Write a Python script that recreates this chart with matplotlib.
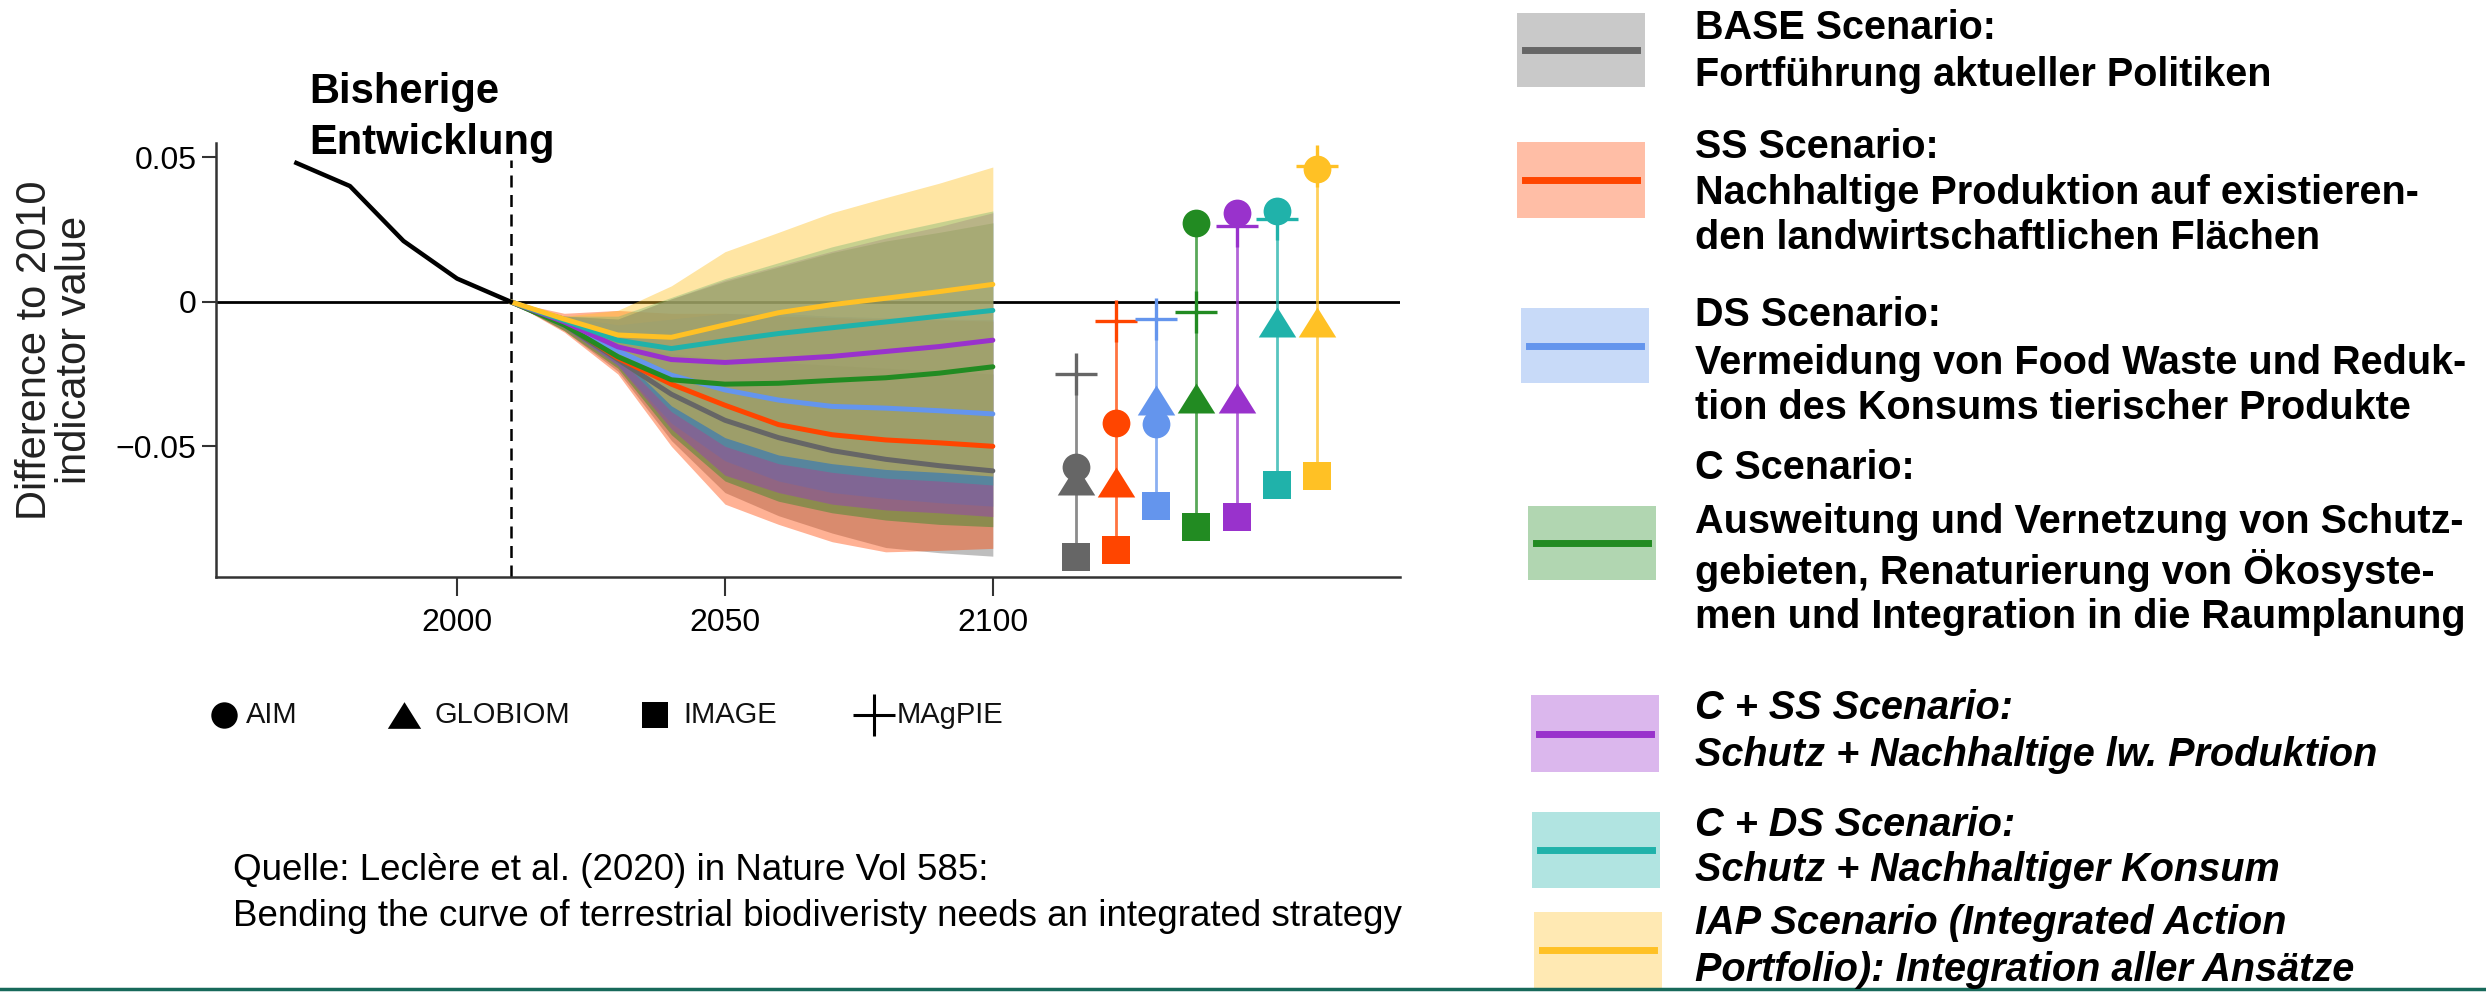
import numpy as np
import matplotlib.pyplot as plt
from matplotlib.patches import Rectangle
from matplotlib.path import Path
from matplotlib.lines import Line2D

plt.rcParams['font.family'] = ['Liberation Sans', 'DejaVu Sans']

W, H = 2486, 993

# bisherige Entwicklung (Biodiversitätsindikator relativ zu 2010)
hist_years = [1970, 1980, 1990, 2000, 2010]
hist_values = [0.048, 0.040, 0.021, 0.008, 0.0]

# Szenarien 2010-2100
years = [2010, 2020, 2030, 2040, 2050, 2060, 2070, 2080, 2090, 2100]
scen_names = ["BASE", "SS", "DS", "C", "C+SS", "C+DS", "IAP"]
scen_colors = ["#666666", "#ff4500", "#6495ed", "#228b22", "#9932cc", "#20b2aa", "#ffc125"]

mean_base = [0, -0.008, -0.020, -0.032, -0.041, -0.047, -0.0515, -0.0545, -0.0567, -0.0585]
mean_ss = [0, -0.0075, -0.0195, -0.0285, -0.0358, -0.0425, -0.046, -0.0478, -0.0488, -0.050]
mean_ds = [0, -0.007, -0.017, -0.0254, -0.0305, -0.034, -0.0362, -0.0368, -0.0377, -0.0388]
mean_c = [0, -0.008, -0.019, -0.027, -0.0285, -0.0282, -0.0272, -0.0263, -0.0247, -0.0225]
mean_css = [0, -0.007, -0.0156, -0.020, -0.021, -0.020, -0.0189, -0.0172, -0.0155, -0.0133]
mean_cds = [0, -0.0065, -0.0133, -0.0162, -0.0135, -0.011, -0.009, -0.007, -0.005, -0.003]
mean_iap = [0, -0.006, -0.0115, -0.0123, -0.008, -0.0038, -0.001, 0.0012, 0.0035, 0.006]

low_base = [0, -0.010, -0.024, -0.048, -0.066, -0.074, -0.080, -0.085, -0.0868, -0.088]
low_ss = [0, -0.0105, -0.025, -0.050, -0.070, -0.077, -0.083, -0.0865, -0.086, -0.0853]
low_ds = [0, -0.009, -0.022, -0.042, -0.055, -0.062, -0.066, -0.068, -0.0695, -0.0707]
low_c = [0, -0.010, -0.023, -0.046, -0.062, -0.069, -0.073, -0.0755, -0.077, -0.0778]
low_css = [0, -0.009, -0.022, -0.044, -0.060, -0.066, -0.070, -0.072, -0.073, -0.0743]
low_cds = [0, -0.008, -0.019, -0.038, -0.050, -0.056, -0.059, -0.061, -0.062, -0.0634]
low_iap = [0, -0.008, -0.018, -0.036, -0.047, -0.053, -0.056, -0.058, -0.059, -0.0603]

high_base = [0, -0.006, -0.013, -0.018, -0.020, -0.021, -0.022, -0.023, -0.024, -0.025]
high_ss = [0, -0.004, -0.003, -0.004, -0.004, -0.005, -0.0055, -0.006, -0.0063, -0.0067]
high_ds = [0, -0.005, -0.008, -0.006, -0.004, -0.004, -0.005, -0.0055, -0.006, -0.0061]
high_c = [0, -0.005, -0.006, 0.001, 0.007, 0.012, 0.017, 0.021, 0.024, 0.0273]
high_css = [0, -0.005, -0.006, 0.001, 0.0075, 0.0125, 0.0175, 0.022, 0.026, 0.0308]
high_cds = [0, -0.005, -0.005, 0.0015, 0.008, 0.0135, 0.019, 0.0235, 0.0275, 0.0314]
high_iap = [0, -0.005, -0.003, 0.0055, 0.0173, 0.024, 0.0308, 0.036, 0.041, 0.0466]

# Modellergebnisse 2100 je Szenario
aim = [-0.0571, -0.0419, -0.0424, 0.0273, 0.0308, 0.0314, 0.0458]
globiom = [-0.0617, -0.0623, -0.0340, -0.0334, -0.0334, -0.0069, -0.0069]
image = [-0.0882, -0.0859, -0.0707, -0.0778, -0.0743, -0.0634, -0.0603]
magpie = [-0.0250, -0.0067, -0.0061, -0.0037, 0.0262, 0.0285, 0.0469]

means = [mean_base, mean_ss, mean_ds, mean_c, mean_css, mean_cds, mean_iap]
lows = [low_base, low_ss, low_ds, low_c, low_css, low_cds, low_iap]
highs = [high_base, high_ss, high_ds, high_c, high_css, high_cds, high_iap]

fig = plt.figure(figsize=(W / 100, H / 100), dpi=100, facecolor="white")

def fx(x):
    return x / W

def fy(y):
    return 1 - y / H

ax = fig.add_axes([fx(216), fy(577), (1400 - 216) / W, (577 - 142.7) / H])
ax.set_xlim(1955, 2176)
ax.set_ylim(-0.0952, 0.055)
for s in ["top", "right"]:
    ax.spines[s].set_visible(False)
for s in ["left", "bottom"]:
    ax.spines[s].set_linewidth(1.8)
    ax.spines[s].set_color("#333333")

ax.set_yticks([-0.05, 0, 0.05])
ax.set_yticklabels(["\u22120.05", "0", "0.05"])
ax.set_xticks([2000, 2050, 2100])
ax.tick_params(axis="y", length=10, width=1.5, labelsize=23, pad=4, color="#333333")
ax.tick_params(axis="x", length=14, width=1.5, labelsize=23, pad=8, color="#333333")

ax.axhline(0, color="black", lw=2, zorder=1)
ax.plot([2010, 2010], [-0.0952, 0.049], color="black", lw=1.8,
        ls=(0, (4.8, 3.0)), zorder=1)

# Bänder und Mittelwerte
for lo, hi, c in zip(lows, highs, scen_colors):
    ax.fill_between(years, lo, hi, color=c, alpha=0.42, lw=0, zorder=2)
for m, c in zip(means, scen_colors):
    ax.plot(years, m, color=c, lw=3.6, zorder=4, solid_capstyle="round")

ax.plot(hist_years, hist_values, color="black", lw=3.2, zorder=4)

# Modellergebnisse rechts
tri = Path([(-1, -0.8), (1, -0.8), (0, 0.8), (-1, -0.8)],
           [Path.MOVETO, Path.LINETO, Path.LINETO, Path.CLOSEPOLY])
for i, c in enumerate(scen_colors):
    xpos = 2115.5 + 7.5 * i
    vals = [aim[i], globiom[i], image[i], magpie[i]]
    ax.plot([xpos, xpos], [min(vals), max(vals)], color=c, lw=2.0, alpha=0.75,
            zorder=5, clip_on=False)
    ax.plot([xpos], [image[i]], marker="s", ms=20, color=c, mew=0, zorder=6, clip_on=False)
    ax.plot([xpos], [globiom[i]], marker=tri, ms=27, color=c, mew=0, zorder=6, clip_on=False)
    ax.plot([xpos], [aim[i]], marker="o", ms=20, color=c, mew=0, zorder=7, clip_on=False)
    ax.plot([xpos], [magpie[i]], marker="+", ms=30, color=c, mew=2.4, zorder=7, clip_on=False)

fig.text(fx(55), fy(350), "Difference to 2010\nindicator value", rotation=90,
         ha="center", va="center", fontsize=30, linespacing=1.0, color="#222222")
fig.text(fx(309), fy(92), "Bisherige", fontsize=30, fontweight="bold", va="center")
fig.text(fx(309), fy(143), "Entwicklung", fontsize=30, fontweight="bold", va="center")

# Modell-Legende unten
model_labels = ["AIM", "GLOBIOM", "IMAGE", "MAgPIE"]
model_marker_x = [224, 404, 655, 874]
model_text_x = [246, 434, 683, 897]
model_markers = ["o", tri, "s", "+"]
model_ms = [19, 24, 19, 30]
for lab, mx, tx, mk, ms in zip(model_labels, model_marker_x, model_text_x, model_markers, model_ms):
    fig.add_artist(Line2D([fx(mx)], [fy(715)], marker=mk, ms=ms, color="black",
                          mew=2.2 if mk == "+" else 0, transform=fig.transFigure))
    fig.text(fx(tx), fy(715), lab, fontsize=21, va="center", color="#111111")

fig.text(fx(233), fy(870), "Quelle: Leclère et al. (2020) in Nature Vol 585:",
         fontsize=26.5, va="center")
fig.text(fx(233), fy(916),
         "Bending the curve of terrestrial biodiveristy needs an integrated strategy",
         fontsize=26.5, va="center")

# Szenario-Legende rechts
legend_boxes = [(1517, 13, 87), (1517, 142, 218), (1521, 308, 383), (1528, 506, 580),
                (1531, 695, 772), (1532, 812, 888), (1534, 912, 988)]
legend_lines = [
    [("BASE Scenario:", 28), ("Fortführung aktueller Politiken", 75)],
    [("SS Scenario:", 147), ("Nachhaltige Produktion auf existieren-", 193),
     ("den landwirtschaftlichen Flächen", 238)],
    [("DS Scenario:", 315), ("Vermeidung von Food Waste und Reduk-", 363),
     ("tion des Konsums tierischer Produkte", 408)],
    [("C Scenario:", 468), ("Ausweitung und Vernetzung von Schutz-", 522),
     ("gebieten, Renaturierung von Ökosyste-", 570),
     ("men und Integration in die Raumplanung", 617)],
    [("C + SS Scenario:", 708), ("Schutz + Nachhaltige lw. Produktion", 755)],
    [("C + DS Scenario:", 825), ("Schutz + Nachhaltiger Konsum", 870)],
    [("IAP Scenario (Integrated Action", 923), ("Portfolio): Integration aller Ansätze", 970)],
]
legend_italic = [False, False, False, False, True, True, True]
for (bx, by0, by1), c, lines, it in zip(legend_boxes, scen_colors, legend_lines, legend_italic):
    fig.add_artist(Rectangle((fx(bx), fy(by1)), 128 / W, (by1 - by0) / H, color=c,
                             alpha=0.35, lw=0, transform=fig.transFigure))
    ymid = (by0 + by1) / 2
    fig.add_artist(Line2D([fx(bx + 8), fx(bx + 120)], [fy(ymid)] * 2, color=c, lw=5,
                          transform=fig.transFigure))
    for txt, ty in lines:
        fig.text(fx(1695), fy(ty), txt, fontsize=28.5, fontweight="bold",
                 fontstyle="italic" if it else "normal", va="center")

fig.add_artist(Line2D([0, 1], [fy(989)] * 2, color="#17695a", lw=2.5,
                      transform=fig.transFigure))

fig.savefig("out.png", dpi=100, facecolor="white")
